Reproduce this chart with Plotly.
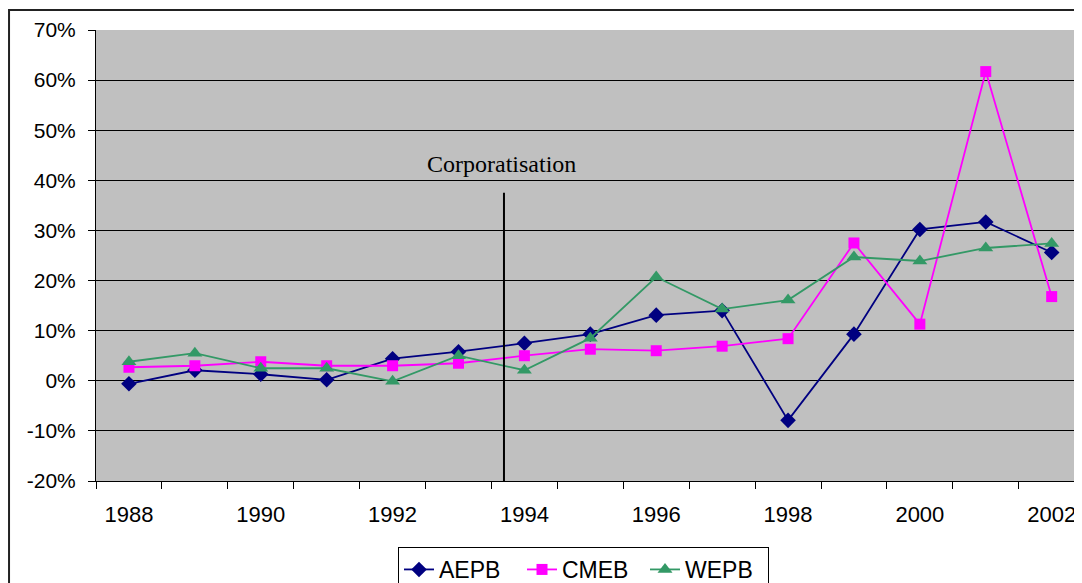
import plotly.graph_objects as go

years = list(range(1988, 2003))
aepb = [-0.006, 0.021, 0.013, 0.002, 0.044, 0.058, 0.075, 0.093, 0.131, 0.140, -0.079, 0.093, 0.302, 0.317, 0.256]
cmeb = [0.027, 0.030, 0.038, 0.030, 0.030, 0.035, 0.050, 0.063, 0.060, 0.069, 0.084, 0.275, 0.113, 0.617, 0.168]
wepb = [0.038, 0.055, 0.025, 0.025, -0.001, 0.050, 0.021, 0.085, 0.207, 0.143, 0.161, 0.247, 0.239, 0.265, 0.274]
xtick_vals = [1988, 1990, 1992, 1994, 1996, 1998, 2000, 2002]
xtick_text = [str(v) for v in xtick_vals]
ytick_vals = [-0.2, -0.1, 0, 0.1, 0.2, 0.3, 0.4, 0.5, 0.6, 0.7]
ytick_text = ["-20%", "-10%", "0%", "10%", "20%", "30%", "40%", "50%", "60%", "70%"]
event_year = 1993.69
event_top = 0.375
event_label = "Corporatisation"

fig = go.Figure()
series = [
    ("AEPB", aepb, "#000080", "diamond", 12),
    ("CMEB", cmeb, "#FF00FF", "square", 11),
    ("WEPB", wepb, "#339966", "triangle-up", 13),
]
for name, vals, col, sym, sz in series:
    fig.add_trace(go.Scatter(
        x=years, y=vals, name=name, mode="lines+markers",
        line=dict(color=col, width=1.8),
        marker=dict(symbol=sym, size=sz, color=col, line=dict(width=0)),
    ))

fig.add_shape(type="line", xref="x", yref="y", x0=event_year, x1=event_year,
              y0=-0.2, y1=event_top, line=dict(color="black", width=2))
fig.add_annotation(x=event_year, y=0.40, xref="x", yref="y", text=event_label,
                   showarrow=False, yanchor="bottom", yshift=1, xshift=-2,
                   font=dict(family="Liberation Serif", size=24, color="black"))
# outer chart frame
fig.add_shape(type="rect", xref="paper", yref="paper", x0=-0.0882, x1=1.2,
              y0=-0.6, y1=1.0443, line=dict(color="#222222", width=2), layer="below")

fig.update_layout(
    width=1074, height=575,
    margin=dict(l=88, r=0, t=22, b=102, autoexpand=False),
    paper_bgcolor="white", plot_bgcolor="#C0C0C0",
    font=dict(family="Liberation Sans", size=20, color="black"),
    showlegend=True,
    legend=dict(orientation="h", x=0.3063, xanchor="left", y=-0.1463, yanchor="top",
                bordercolor="black", borderwidth=1, bgcolor="white",
                font=dict(size=23, family="Liberation Sans"),
                entrywidth=78, entrywidthmode="pixels", tracegroupgap=0),
)
fig.update_xaxes(
    range=[1987.5, 2002.46], tickmode="array", tickvals=xtick_vals, ticktext=xtick_text,
    ticks="", showgrid=False, showline=True, linecolor="black", linewidth=1,
    ticklabelstandoff=14, tickfont=dict(size=22), automargin=False,
    minor=dict(ticks="outside", ticklen=7, tickcolor="black", tick0=1987.5, dtick=1, showgrid=False),
    zeroline=False,
)
fig.update_yaxes(
    range=[-0.2, 0.7], tickmode="array", tickvals=ytick_vals, ticktext=ytick_text,
    ticks="outside", ticklen=7, tickcolor="black", showgrid=True, gridcolor="black",
    gridwidth=1, showline=True, linecolor="black", linewidth=1, zeroline=False,
    tickfont=dict(size=21), ticklabelstandoff=8, automargin=False,
)
fig.write_html("out.html")
